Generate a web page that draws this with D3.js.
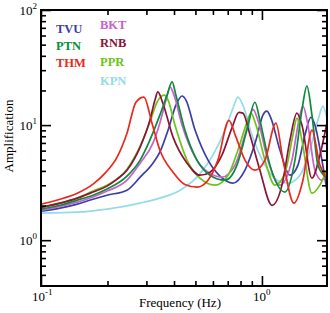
<!DOCTYPE html>
<html>
<head>
<meta charset="utf-8">
<script src="https://cdn.jsdelivr.net/npm/d3@7"></script>
<style>
  body { margin: 0; background: #fff; }
  text { font-family: "Liberation Serif", "Times New Roman", serif; }
</style>
</head>
<body>
<svg id="amp" width="330" height="313"></svg>
<script>
// site amplification curves, [frequency Hz, amplification]
const TVU = [[0.100,1.79],[0.122,1.90],[0.146,2.06],[0.172,2.27],[0.199,2.46],[0.245,2.72],[0.281,3.53],[0.321,4.67],[0.345,5.82],[0.376,9.05],[0.408,14.9],[0.435,17.9],[0.453,16.5],[0.498,9.05],[0.570,4.96],[0.646,3.60],[0.739,3.13],[0.838,4.06],[0.940,7.41],[1.010,12.2],[1.053,13.2],[1.098,11.5],[1.206,6.07],[1.339,3.67],[1.455,4.49],[1.565,8.19],[1.667,11.7],[1.737,10.0],[1.868,4.96],[1.968,2.72]];
const PTN = [[0.100,1.86],[0.122,2.01],[0.146,2.23],[0.172,2.46],[0.199,2.78],[0.245,3.60],[0.281,4.96],[0.311,7.41],[0.345,12.2],[0.372,18.2],[0.392,23.7],[0.408,18.2],[0.448,9.05],[0.508,4.96],[0.582,3.67],[0.680,3.32],[0.771,4.49],[0.855,9.05],[0.930,15.8],[0.979,11.0],[1.087,4.49],[1.271,2.62],[1.411,4.96],[1.517,13.5],[1.598,21.8],[1.684,12.2],[1.792,4.49],[1.968,3.46]];
const THM = [[0.100,2.06],[0.122,2.27],[0.146,2.56],[0.172,3.07],[0.195,3.83],[0.221,5.27],[0.245,8.51],[0.269,15.8],[0.292,17.5],[0.318,10.4],[0.345,6.07],[0.396,3.90],[0.448,3.05],[0.508,2.89],[0.570,3.32],[0.632,4.96],[0.709,11.0],[0.763,7.86],[0.838,4.96],[0.930,4.06],[1.032,4.96],[1.157,10.4],[1.245,4.96],[1.396,2.10],[1.533,3.32],[1.684,9.05],[1.829,4.49],[1.968,3.46]];
const BKT = [[0.100,1.82],[0.122,1.97],[0.146,2.14],[0.172,2.37],[0.199,2.67],[0.245,3.32],[0.281,4.67],[0.321,6.97],[0.345,10.4],[0.368,16.5],[0.384,21.4],[0.400,18.2],[0.435,10.0],[0.498,5.27],[0.570,3.90],[0.659,3.53],[0.755,4.49],[0.838,8.19],[0.911,13.7],[0.959,11.0],[1.064,4.96],[1.206,3.01],[1.367,4.96],[1.470,11.0],[1.533,14.6],[1.615,10.0],[1.737,4.06],[1.868,3.32],[1.968,3.90]];
const RNB = [[0.100,1.93],[0.122,2.10],[0.146,2.32],[0.172,2.62],[0.199,2.95],[0.221,3.39],[0.245,4.06],[0.281,6.44],[0.311,11.0],[0.328,16.5],[0.338,19.4],[0.356,15.5],[0.396,7.86],[0.458,4.67],[0.524,3.67],[0.582,3.90],[0.659,5.48],[0.731,9.42],[0.787,12.9],[0.820,12.7],[0.883,8.19],[0.979,4.06],[1.110,2.01],[1.232,3.01],[1.339,7.41],[1.440,12.7],[1.517,10.0],[1.684,3.46],[1.829,5.48],[1.968,10.4]];
const PPR = [[0.100,1.93],[0.122,2.10],[0.146,2.32],[0.172,2.67],[0.199,3.01],[0.245,4.14],[0.281,6.57],[0.311,10.6],[0.335,15.8],[0.360,18.2],[0.376,16.5],[0.404,10.0],[0.458,4.96],[0.524,3.46],[0.613,3.01],[0.702,3.67],[0.779,6.07],[0.847,10.0],[0.892,12.7],[0.940,10.0],[1.032,4.96],[1.145,3.01],[1.271,3.83],[1.381,8.19],[1.440,11.5],[1.517,7.41],[1.684,2.56],[1.829,3.01],[1.968,4.06]];
const KPN = [[0.100,1.72],[0.146,1.75],[0.199,1.86],[0.281,2.10],[0.345,2.32],[0.426,2.72],[0.513,3.60],[0.600,5.48],[0.680,9.05],[0.739,14.0],[0.779,17.5],[0.820,14.9],[0.901,8.19],[1.032,4.49],[1.169,3.32],[1.311,3.13],[1.486,3.67],[1.649,6.07],[1.792,11.0],[1.888,14.6],[1.968,11.5]];

const siteNames = ["KPN", "TVU", "BKT", "PPR", "RNB", "PTN", "THM"];
const siteData = [KPN, TVU, BKT, PPR, RNB, PTN, THM];
const siteColors = {
    TVU: "#3d3da8", PTN: "#0a8c3c", THM: "#e8291c",
    BKT: "#cc5fcc", RNB: "#8c1437", PPR: "#6cc417", KPN: "#93dbe9"
};
const legendLeft = ["TVU", "PTN", "THM"];
const legendRight = ["BKT", "RNB", "PPR", "KPN"];

const xMajor = [0.1, 1];
const xMinor = [0.2, 0.3, 0.4, 0.5, 0.6, 0.7, 0.8, 0.9];
const yMajor = [1, 10, 100];
const yMinor = [0.5, 0.6, 0.7, 0.8, 0.9, 2, 3, 4, 5, 6, 7, 8, 9, 20, 30, 40, 50, 60, 70, 80, 90];
const xTickLabels = [{ v: 0.1, e: "-1" }, { v: 1, e: "0" }];
const yTickLabels = [{ v: 100, e: "2" }, { v: 10, e: "1" }, { v: 1, e: "0" }];

const svg = d3.select("#amp");
const margin = { top: 10, right: 3, bottom: 27, left: 41 };
const width = 330 - margin.left - margin.right,
    height = 313 - margin.top - margin.bottom;

const x = d3.scaleLog().domain([0.1, 1.97]).range([0, width]);
const y = d3.scaleLog().domain([0.4, 100]).range([height, 0]);

const g = svg.append("g").attr("transform", `translate(${margin.left},${margin.top})`);

g.append("clipPath").attr("id", "clip")
    .append("rect").attr("width", width).attr("height", height);

const line = d3.line()
    .x(d => x(d[0]))
    .y(d => y(d[1]))
    .curve(d3.curveMonotoneX);

g.append("g").attr("clip-path", "url(#clip)")
    .selectAll("path")
    .data(siteData)
    .enter().append("path")
    .attr("fill", "none")
    .attr("stroke", (d, i) => siteColors[siteNames[i]])
    .attr("stroke-width", 1.7)
    .attr("d", line);

// axes, ticks pointing inward on all four sides
function styleAxis(sel) {
    sel.select(".domain").remove();
    sel.selectAll(".tick line").attr("stroke", "#000").attr("stroke-width", 1.6);
    sel.selectAll(".tick text").remove();
}
const noLabel = () => "";
g.append("g").attr("transform", `translate(0,${height})`)
    .call(d3.axisBottom(x).tickValues(xMinor).tickSize(-5).tickFormat(noLabel)).call(styleAxis);
g.append("g").attr("transform", `translate(0,${height})`)
    .call(d3.axisBottom(x).tickValues(xMajor).tickSize(-10).tickFormat(noLabel)).call(styleAxis);
g.append("g")
    .call(d3.axisTop(x).tickValues(xMinor).tickSize(-5).tickFormat(noLabel)).call(styleAxis);
g.append("g")
    .call(d3.axisTop(x).tickValues(xMajor).tickSize(-10).tickFormat(noLabel)).call(styleAxis);
g.append("g")
    .call(d3.axisLeft(y).tickValues(yMinor).tickSize(-5).tickFormat(noLabel)).call(styleAxis);
g.append("g")
    .call(d3.axisLeft(y).tickValues(yMajor).tickSize(-10).tickFormat(noLabel)).call(styleAxis);
g.append("g").attr("transform", `translate(${width},0)`)
    .call(d3.axisRight(y).tickValues(yMinor).tickSize(-5).tickFormat(noLabel)).call(styleAxis);
g.append("g").attr("transform", `translate(${width},0)`)
    .call(d3.axisRight(y).tickValues(yMajor).tickSize(-10).tickFormat(noLabel)).call(styleAxis);

g.append("rect")
    .attr("width", width).attr("height", height)
    .attr("fill", "none").attr("stroke", "#000").attr("stroke-width", 2);

// tick labels as 10 with superscript exponent
g.selectAll(".ylab")
    .data(yTickLabels)
    .enter().append("text")
    .attr("class", "ylab")
    .attr("x", -4)
    .attr("y", d => y(d.v) + 5)
    .attr("text-anchor", "end")
    .attr("font-size", 13)
    .each(function (d) {
        const t = d3.select(this);
        t.append("tspan").text("10");
        t.append("tspan").attr("dy", -6).attr("font-size", 9).text(d.e);
    });

g.selectAll(".xlab")
    .data(xTickLabels)
    .enter().append("text")
    .attr("class", "xlab")
    .attr("x", d => x(d.v) - 9)
    .attr("y", height + 15)
    .attr("font-size", 13)
    .each(function (d) {
        const t = d3.select(this);
        t.append("tspan").text("10");
        t.append("tspan").attr("dy", -6).attr("font-size", 9).text(d.e);
    });

svg.append("text")
    .attr("x", 180).attr("y", 307)
    .attr("text-anchor", "middle")
    .attr("font-size", 13)
    .text("Frequency (Hz)");

svg.append("text")
    .attr("transform", "translate(13,136) rotate(-90)")
    .attr("text-anchor", "middle")
    .attr("font-size", 13)
    .text("Amplification");

// legend
svg.selectAll(".legL")
    .data(legendLeft)
    .enter().append("text")
    .attr("x", 56)
    .attr("y", (d, i) => 32.5 + i * 17)
    .attr("font-size", 12.5)
    .attr("font-weight", "bold")
    .attr("fill", d => siteColors[d])
    .text(d => d);

svg.selectAll(".legR")
    .data(legendRight)
    .enter().append("text")
    .attr("x", 100)
    .attr("y", (d, i) => 28.5 + i * 18.7)
    .attr("font-size", 12.5)
    .attr("font-weight", "bold")
    .attr("fill", d => siteColors[d])
    .text(d => d);
</script>
</body>
</html>
